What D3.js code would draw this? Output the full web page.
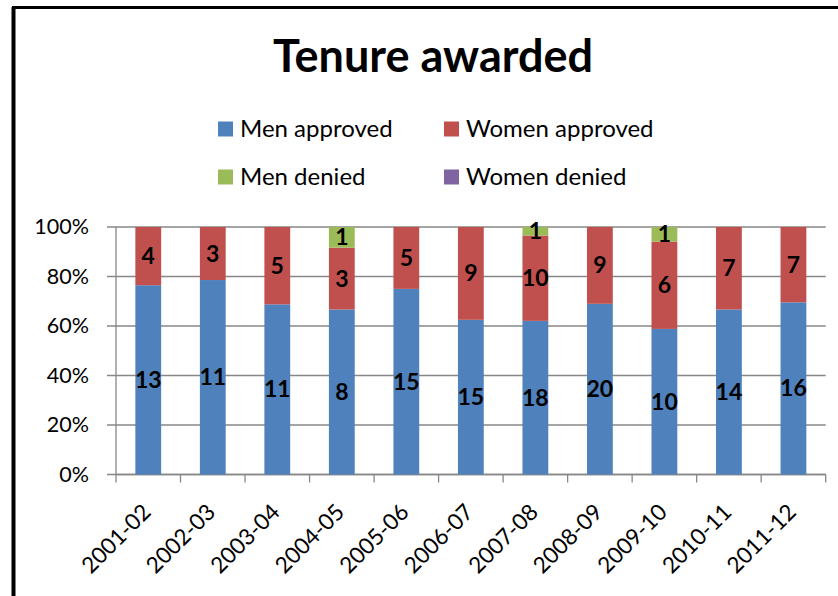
<!DOCTYPE html>
<html>
<head>
<meta charset="utf-8">
<script src="https://cdn.jsdelivr.net/npm/d3@7"></script>
<style>
  html, body { margin: 0; padding: 0; background: #fff; }
  svg { display: block; }
</style>
</head>
<body>
<svg id="chart" width="838" height="596"></svg>
<script>
// Tenure decisions by academic year
const years = ["2001-02","2002-03","2003-04","2004-05","2005-06","2006-07","2007-08","2008-09","2009-10","2010-11","2011-12"];
const menApproved   = [13, 11, 11, 8, 15, 15, 18, 20, 10, 14, 16];
const womenApproved = [4, 3, 5, 3, 5, 9, 10, 9, 6, 7, 7];
const menDenied     = [0, 0, 0, 1, 0, 0, 1, 0, 1, 0, 0];
const womenDenied   = [0, 0, 0, 0, 0, 0, 0, 0, 0, 0, 0];
const seriesNames = ["Men approved", "Women approved", "Men denied", "Women denied"];
const seriesColors = ["#4F81BD", "#C0504D", "#9BBB59", "#8064A2"];
const yTicks = [0, 0.2, 0.4, 0.6, 0.8, 1];

const FONT = "Lato, 'Open Sans', sans-serif";
const svg = d3.select("#chart");

// outer frame (left and top edges visible)
svg.append("line").attr("x1", 13.5).attr("x2", 13.5).attr("y1", 7).attr("y2", 596)
  .attr("stroke", "#000").attr("stroke-width", 4);
svg.append("line").attr("x1", 12).attr("x2", 838).attr("y1", 7.5).attr("y2", 7.5)
  .attr("stroke", "#000").attr("stroke-width", 3);

// title
svg.append("text").attr("x", 433).attr("y", 72).attr("text-anchor", "middle")
  .attr("font-family", FONT).attr("font-weight", "bold").attr("font-size", 45)
  .attr("fill", "#000").text("Tenure awarded");

// legend
const legendPos = [[218, 129], [444, 129], [218, 177], [444, 177]];
seriesNames.forEach((name, i) => {
  const [lx, ly] = legendPos[i];
  svg.append("rect").attr("x", lx).attr("y", ly - 7.5).attr("width", 15).attr("height", 15)
    .attr("fill", seriesColors[i]);
  svg.append("text").attr("x", lx + 22).attr("y", ly + 7.5)
    .attr("font-family", FONT).attr("font-size", 24).attr("fill", "#000").text(name);
});

// stacked percentage data
const rows = years.map((y, i) => {
  const total = menApproved[i] + womenApproved[i] + menDenied[i] + womenDenied[i];
  return { year: y, vals: [menApproved[i], womenApproved[i], menDenied[i], womenDenied[i]], total };
});
const keys = [0, 1, 2, 3];
const stack = d3.stack().keys(keys).value((d, k) => d.vals[k] / d.total);
const stacked = stack(rows);

const plot = { left: 116, right: 825.7, top: 227, bottom: 474.5 };
const x = d3.scaleBand().domain(years).range([plot.left, plot.right]).paddingInner(0.6).paddingOuter(0.3);
const y = d3.scaleLinear().domain([0, 1]).range([plot.bottom, plot.top]);

// gridlines
svg.append("g").selectAll("line").data(yTicks).join("line")
  .attr("x1", plot.left - 9).attr("x2", plot.right)
  .attr("y1", d => y(d)).attr("y2", d => y(d))
  .attr("stroke", "#878787").attr("stroke-width", 1.3);

// y axis line and labels
svg.append("line").attr("x1", plot.left).attr("x2", plot.left)
  .attr("y1", plot.top).attr("y2", plot.bottom)
  .attr("stroke", "#878787").attr("stroke-width", 1.3);
svg.append("g").selectAll("text").data(yTicks).join("text")
  .attr("x", 89).attr("y", d => y(d) + 7).attr("text-anchor", "end")
  .attr("font-family", FONT).attr("font-size", 21.5).attr("fill", "#000")
  .text(d => d3.format(".0%")(d));

// x axis line and ticks at band boundaries
svg.append("line").attr("x1", plot.left).attr("x2", plot.right)
  .attr("y1", plot.bottom).attr("y2", plot.bottom)
  .attr("stroke", "#878787").attr("stroke-width", 1.3);
const step = (plot.right - plot.left) / years.length;
const boundaries = d3.range(years.length + 1).map(i => plot.left + i * step);
svg.append("g").selectAll("line").data(boundaries).join("line")
  .attr("x1", d => d).attr("x2", d => d)
  .attr("y1", plot.bottom).attr("y2", plot.bottom + 8)
  .attr("stroke", "#878787").attr("stroke-width", 1.3);

// bars
const segG = svg.append("g");
stacked.forEach((layer, k) => {
  segG.append("g").selectAll("rect").data(layer).join("rect")
    .attr("x", d => x(d.data.year))
    .attr("width", x.bandwidth())
    .attr("y", d => y(d[1]))
    .attr("height", d => y(d[0]) - y(d[1]))
    .attr("fill", seriesColors[k]);
});

// data labels
const labelG = svg.append("g");
stacked.forEach((layer, k) => {
  labelG.append("g").selectAll("text").data(layer.filter(d => d.data.vals[k] > 0)).join("text")
    .attr("x", d => x(d.data.year) + x.bandwidth() / 2)
    .attr("y", d => y((d[0] + d[1]) / 2) + 8)
    .attr("text-anchor", "middle")
    .attr("font-family", FONT).attr("font-weight", "bold").attr("font-size", 23)
    .attr("fill", "#000")
    .text(d => d.data.vals[k]);
});

// rotated category labels
svg.append("g").selectAll("text").data(years).join("text")
  .attr("transform", d => `translate(${x(d) + x.bandwidth() / 2 + 4},${plot.bottom + 39}) rotate(-45)`)
  .attr("text-anchor", "end")
  .attr("font-family", FONT).attr("font-size", 22.5).attr("fill", "#000")
  .text(d => d);
</script>
</body>
</html>
